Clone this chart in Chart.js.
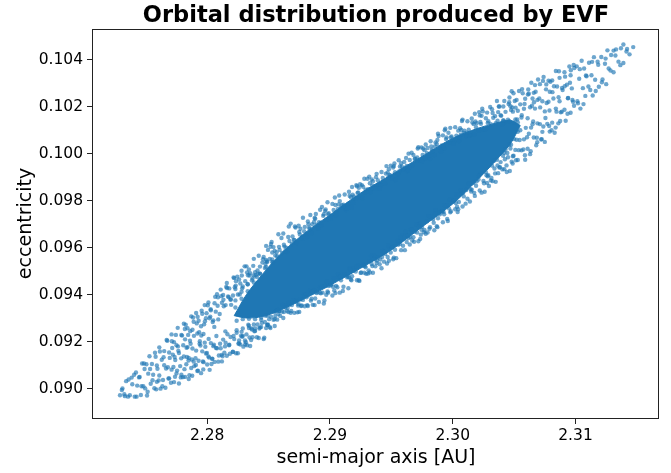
<!DOCTYPE html>
<html>
<head>
<meta charset="utf-8">
<script src="https://cdn.jsdelivr.net/npm/chart.js@4.4.1/dist/chart.umd.min.js"></script>
<style>
  html, body { margin: 0; padding: 0; background: #fff; }
  canvas { display: block; }
</style>
</head>
<body>
<canvas id="chart" width="671" height="473"></canvas>
<script>
/* semi-major axis [AU], eccentricity pairs */
const tailLow = [
  [2.2729,0.08972],[2.2731,0.09001],[2.2733,0.08968],[2.2734,0.09032],[2.2736,0.09039],[2.2737,0.08972],[2.2739,0.09019],
  [2.2741,0.08966],[2.2742,0.09069],[2.2743,0.09013],[2.2745,0.09050],[2.2746,0.08973],[2.2747,0.09107],[2.2748,0.09010],[2.2749,0.09084],
  [2.2751,0.08971],[2.2752,0.09064],[2.2753,0.09138],[2.2754,0.09021],[2.2755,0.09105],[2.2756,0.09059],[2.2757,0.09002],[2.2758,0.09136],[2.2759,0.09099],[2.2759,0.09029],
  [2.2761,0.09176],[2.2761,0.09056],[2.2762,0.09000],[2.2763,0.09123],[2.2764,0.09037],[2.2765,0.09160],[2.2765,0.09100],[2.2766,0.09004],[2.2767,0.09207],[2.2768,0.09091],[2.2769,0.09154],[2.2769,0.09044],
  [2.2771,0.09231],[2.2771,0.09081],[2.2772,0.09145],[2.2773,0.09028],[2.2773,0.09198],[2.2774,0.09122],[2.2775,0.09185],[2.2775,0.09065],[2.2776,0.09259],[2.2777,0.09022],[2.2777,0.09152],[2.2778,0.09096],[2.2779,0.09229],[2.2779,0.09059],
  [2.2781,0.09277],[2.2781,0.09137],[2.2782,0.09050],[2.2782,0.09210],[2.2783,0.09104],[2.2784,0.09257],[2.2784,0.09177],[2.2785,0.09041],[2.2785,0.09131],[2.2786,0.09204],[2.2787,0.09308],[2.2787,0.09088],[2.2788,0.09251],[2.2788,0.09171],[2.2789,0.09115],[2.2789,0.09285],
  [2.2791,0.09322],[2.2791,0.09162],[2.2792,0.09075],[2.2792,0.09235],[2.2793,0.09289],[2.2793,0.09119],[2.2794,0.09202],[2.2795,0.09066],[2.2795,0.09266],[2.2796,0.09159],[2.2796,0.09319],[2.2797,0.09233],[2.2797,0.09113],[2.2798,0.09356],[2.2798,0.09196],[2.2799,0.09300],[2.2799,0.09150],[2.2800,0.09103],
  [2.2801,0.09367],[2.2801,0.09137],[2.2802,0.09300],[2.2802,0.09080],[2.2803,0.09194],[2.2803,0.09334],[2.2804,0.09127],[2.2805,0.09291],[2.2805,0.09181],[2.2806,0.09364],[2.2806,0.09114],[2.2807,0.09328],[2.2808,0.09172],[2.2808,0.09402],[2.2809,0.09115],[2.2809,0.09295],
  [2.2811,0.09422],[2.2811,0.09172],[2.2812,0.09366],[2.2812,0.09116],[2.2813,0.09209],[2.2813,0.09399],[2.2814,0.09153],[2.2815,0.09356],[2.2815,0.09196],[2.2816,0.09450],[2.2816,0.09140],[2.2817,0.09393],[2.2818,0.09187],[2.2818,0.09427],[2.2819,0.09220],[2.2819,0.09380],
  [2.27305,0.08994],[2.27355,0.08966],[2.27385,0.09047],[2.27325,0.08976],
  [2.27405,0.09059],[2.27425,0.08966],[2.27445,0.09048],[2.27465,0.09010],[2.27485,0.09107],[2.27495,0.09001],
  [2.27505,0.09104],[2.27515,0.08987],[2.27535,0.09084],[2.27555,0.09036],[2.27575,0.09153],[2.27585,0.08997],[2.27595,0.09085],
  [2.27605,0.09035],[2.27615,0.09158],[2.27635,0.09010],[2.27645,0.09134],[2.27665,0.09086],[2.27675,0.09204],[2.27685,0.09043],[2.27695,0.09131],
  [2.27705,0.09025],[2.27715,0.09173],[2.27725,0.09092],[2.27745,0.09229],[2.27755,0.09077],[2.27765,0.09161],[2.27785,0.09048],[2.27795,0.09226],[2.27735,0.09135],
  [2.27805,0.09185],[2.27815,0.09083],[2.27825,0.09272],[2.27835,0.09135],[2.27845,0.09229],[2.27855,0.09057],[2.27865,0.09191],[2.27875,0.09124],[2.27885,0.09303],[2.27895,0.09096],
  [2.27905,0.09130],[2.27915,0.09278],[2.27925,0.09077],[2.27935,0.09240],[2.27945,0.09184],[2.27955,0.09332],[2.27965,0.09116],[2.27975,0.09274],[2.27985,0.09178],[2.27995,0.09321],
  [2.28005,0.09355],[2.28015,0.09133],[2.28025,0.09307],[2.28035,0.09105],[2.28045,0.09284],[2.28055,0.09187],[2.28065,0.09391],[2.28075,0.09224],[2.28085,0.09353],[2.28095,0.09141],
  [2.28105,0.09191],[2.28115,0.09394],[2.28125,0.09138],[2.28135,0.09351],[2.28145,0.09180],[2.28155,0.09433],[2.28165,0.09232],[2.28175,0.09390],[2.28185,0.09149],[2.28195,0.09357],
  [2.27712,0.09202],[2.27738,0.09051],[2.27762,0.09180],[2.27788,0.09129],[2.27802,0.09049],[2.27818,0.09254],[2.27832,0.09174],[2.27848,0.09120],
  [2.27862,0.09245],[2.27878,0.09055],[2.27892,0.09225],[2.27908,0.09101],[2.27922,0.09306],[2.27938,0.09191],[2.27952,0.09226],[2.27968,0.09082],
  [2.27982,0.09287],[2.27998,0.09152],[2.28012,0.09212],[2.28028,0.09338],[2.28042,0.09128],[2.28058,0.09263],[2.28072,0.09173],[2.28088,0.09389],
  [2.28102,0.09318],[2.28118,0.09144],[2.28132,0.09379],[2.28148,0.09244],[2.28162,0.09429],[2.28178,0.09185],[2.28192,0.09380],[2.28208,0.09156],
  [2.28232,0.09439],[2.28258,0.09193],[2.28282,0.09482],[2.28308,0.09205],[2.28332,0.09483],[2.28358,0.09207]
]

/* dots packed round both ends of the solid middle */
const coreRim = [
  [2.2823,0.09346],[2.2823,0.09376],[2.2828,0.09383],[2.2828,0.09413],[2.2833,0.09415],[2.2833,0.09445],[2.2838,0.09452],[2.2838,0.09482],
  [2.2843,0.09490],[2.2843,0.09520],[2.2848,0.09518],[2.2848,0.09548],[2.2853,0.09550],[2.2853,0.09580],
  [2.2824,0.09289],[2.2824,0.09249],[2.2829,0.09296],[2.2829,0.09256],[2.2834,0.09298],[2.2834,0.09258],[2.2839,0.09296],[2.2839,0.09256],
  [2.2844,0.09303],[2.2844,0.09263],[2.2849,0.09311],[2.2849,0.09271],[2.2855,0.09327],[2.2855,0.09297],
  [2.3042,0.10135],[2.3042,0.10005],[2.3046,0.10139],[2.3046,0.10039],[2.3050,0.10133],[2.3050,0.10063],[2.3053,0.10134],[2.3053,0.10094]
]

const upperEdge = [
  [2.2821,0.09397],[2.2823,0.09424],[2.2825,0.09401],[2.2827,0.09448],[2.2829,0.09435],[2.2822,0.09471],[2.2826,0.09465],[2.2828,0.09502],
  [2.2831,0.09458],[2.2833,0.09445],[2.2835,0.09492],[2.2837,0.09469],[2.2839,0.09496],[2.2832,0.09521],[2.2834,0.09508],[2.2838,0.09553],
  [2.2841,0.09503],[2.2843,0.09490],[2.2845,0.09537],[2.2847,0.09514],[2.2849,0.09541],[2.2842,0.09566],[2.2846,0.09561],[2.2848,0.09608],
  [2.2851,0.09553],[2.2853,0.09540],[2.2855,0.09587],[2.2857,0.09564],[2.2859,0.09591],[2.2852,0.09616],[2.2854,0.09603],[2.2858,0.09658],
  [2.2861,0.09578],[2.2863,0.09605],[2.2865,0.09582],[2.2867,0.09629],[2.2869,0.09616],[2.2862,0.09661],[2.2866,0.09646],[2.2868,0.09703],
  [2.2871,0.09633],[2.2873,0.09620],[2.2875,0.09667],[2.2877,0.09644],[2.2879,0.09671],[2.2872,0.09686],[2.2876,0.09681],[2.2878,0.09728],
  [2.2881,0.09659],[2.2883,0.09686],[2.2885,0.09663],[2.2887,0.09710],[2.2889,0.09697],[2.2882,0.09712],[2.2884,0.09740],[2.2888,0.09724],
  [2.2891,0.09709],[2.2893,0.09696],[2.2895,0.09743],[2.2897,0.09720],[2.2899,0.09747],[2.2892,0.09762],[2.2896,0.09757],[2.2898,0.09794],
  [2.2901,0.09734],[2.2903,0.09761],[2.2905,0.09738],[2.2907,0.09785],[2.2909,0.09772],[2.2902,0.09787],[2.2904,0.09814],[2.2908,0.09799],
  [2.2911,0.09784],[2.2913,0.09761],[2.2915,0.09788],[2.2917,0.09815],[2.2919,0.09792],[2.2912,0.09827],[2.2916,0.09822],[2.2918,0.09859],
  [2.2921,0.09809],[2.2923,0.09836],[2.2925,0.09813],[2.2927,0.09860],[2.2929,0.09847],[2.2922,0.09862],[2.2926,0.09867],[2.2928,0.09894],
  [2.2931,0.09850],[2.2933,0.09837],[2.2935,0.09884],[2.2937,0.09861],[2.2939,0.09888],[2.2932,0.09903],[2.2934,0.09891],[2.2938,0.09915],
  [2.2941,0.09870],[2.2943,0.09897],[2.2945,0.09874],[2.2947,0.09921],[2.2949,0.09908],[2.2942,0.09923],[2.2946,0.09948],[2.2948,0.09935],
  [2.2951,0.09895],[2.2953,0.09922],[2.2955,0.09899],[2.2957,0.09946],[2.2959,0.09933],[2.2952,0.09948],[2.2956,0.09973],[2.2958,0.09960],
  [2.2961,0.09940],[2.2963,0.09927],[2.2965,0.09974],[2.2967,0.09951],[2.2969,0.09978],[2.2962,0.09983],[2.2964,0.10001],[2.2968,0.09995],
  [2.2971,0.09985],[2.2973,0.09972],[2.2975,0.09969],[2.2977,0.10016],[2.2979,0.10003],[2.2972,0.10028],[2.2976,0.10023],[2.2978,0.10040],
  [2.2981,0.09991],[2.2983,0.10018],[2.2985,0.09995],[2.2987,0.10042],[2.2989,0.10029],[2.2982,0.10054],[2.2986,0.10049],[2.2988,0.10086],
  [2.2991,0.10036],[2.2993,0.10023],[2.2995,0.10070],[2.2997,0.10047],[2.2999,0.10074],[2.2992,0.10079],[2.2994,0.10107],[2.2998,0.10111],
  [2.3001,0.10051],[2.3003,0.10078],[2.3005,0.10055],[2.3007,0.10102],[2.3009,0.10089],[2.3002,0.10114],[2.3006,0.10109],[2.3008,0.10146],
  [2.3011,0.10076],[2.3013,0.10103],[2.3015,0.10080],[2.3017,0.10127],[2.3019,0.10114],[2.3012,0.10139],[2.3016,0.10134],[2.3018,0.10171],
  [2.3021,0.10101],[2.3023,0.10128],[2.3025,0.10105],[2.3027,0.10152],[2.3029,0.10139],[2.3022,0.10164],[2.3024,0.10192],[2.3028,0.10176],
  [2.3031,0.10127],[2.3033,0.10154],[2.3035,0.10131],[2.3037,0.10178],[2.3039,0.10165],[2.3032,0.10190],[2.3036,0.10225],[2.3038,0.10202],
  [2.3041,0.10142],[2.3043,0.10179],[2.3045,0.10146],[2.3047,0.10203],[2.3049,0.10180],[2.3042,0.10225],[2.3046,0.10220],[2.3048,0.10267],
  [2.28245,0.09477],[2.28265,0.09401],[2.28225,0.09432],[2.28235,0.09458],[2.28285,0.09428],[2.28215,0.09474],
  [2.28375,0.09523],[2.28395,0.09483],[2.28305,0.09521],[2.28345,0.09482],[2.28365,0.09462],[2.28325,0.09495],
  [2.28485,0.09541],[2.28415,0.09490],[2.28455,0.09551],[2.28475,0.09531],[2.28495,0.09591],[2.28405,0.09476],
  [2.28565,0.09581],[2.28525,0.09625],[2.28535,0.09538],[2.28585,0.09604],[2.28515,0.09604],[2.28555,0.09567],
  [2.28695,0.09648],[2.28605,0.09642],[2.28645,0.09600],[2.28665,0.09691],[2.28625,0.09613],[2.28635,0.09585],
  [2.28715,0.09691],[2.28755,0.09657],[2.28775,0.09640],[2.28795,0.09689],[2.28705,0.09633],[2.28745,0.09694],
  [2.28825,0.09700],[2.28835,0.09680],[2.28885,0.09744],[2.28815,0.09646],[2.28855,0.09700],[2.28875,0.09727],
  [2.28905,0.09682],[2.28945,0.09736],[2.28965,0.09763],[2.28925,0.09707],[2.28935,0.09774],[2.28985,0.09743],
  [2.29055,0.09753],[2.29075,0.09823],[2.29095,0.09782],[2.29005,0.09726],[2.29045,0.09782],[2.29065,0.09765],
  [2.29135,0.09767],[2.29185,0.09826],[2.29115,0.09778],[2.29155,0.09839],[2.29175,0.09772],[2.29195,0.09819],
  [2.29245,0.09871],[2.29265,0.09812],[2.29225,0.09834],[2.29235,0.09856],[2.29285,0.09835],[2.29215,0.09867],
  [2.29375,0.09901],[2.29395,0.09870],[2.29305,0.09894],[2.29345,0.09866],[2.29365,0.09851],[2.29325,0.09875],
  [2.29485,0.09910],[2.29415,0.09864],[2.29455,0.09916],[2.29475,0.09901],[2.29495,0.09950],[2.29405,0.09852],
  [2.29565,0.09926],[2.29525,0.09959],[2.29535,0.09889],[2.29585,0.09946],[2.29515,0.09942],[2.29555,0.09914],
  [2.29695,0.09980],[2.29605,0.09966],[2.29645,0.09942],[2.29665,0.10005],[2.29625,0.09949],[2.29635,0.09931],
  [2.29715,0.10023],[2.29755,0.09995],[2.29775,0.09980],[2.29795,0.10025],[2.29705,0.09971],[2.29745,0.10027],
  [2.29825,0.10032],[2.29835,0.10012],[2.29885,0.10076],[2.29815,0.09978],[2.29855,0.10032],[2.29875,0.10059],
  [2.29905,0.10009],[2.29945,0.10063],[2.29965,0.10090],[2.29925,0.10034],[2.29935,0.10101],[2.29985,0.10070],
  [2.30055,0.10070],[2.30075,0.10140],[2.30095,0.10099],[2.30005,0.10043],[2.30045,0.10099],[2.30065,0.10082],
  [2.30135,0.10079],[2.30185,0.10138],[2.30115,0.10090],[2.30155,0.10151],[2.30175,0.10084],[2.30195,0.10131],
  [2.30245,0.10181],[2.30265,0.10105],[2.30225,0.10136],[2.30235,0.10162],[2.30285,0.10132],[2.30215,0.10178],
  [2.30375,0.10202],[2.30395,0.10162],[2.30305,0.10200],[2.30345,0.10161],[2.30365,0.10141],[2.30325,0.10174],
  [2.30485,0.10198],[2.30415,0.10142],[2.30455,0.10212],[2.30475,0.10187],[2.30495,0.10258],[2.30405,0.10126]
]

const lowerEdge = [
  [2.2822,0.09211],[2.2824,0.09238],[2.2826,0.09205],[2.2828,0.09242],[2.2829,0.09225],[2.2821,0.09157],[2.2825,0.09151],[2.2827,0.09188],
  [2.2832,0.09231],[2.2834,0.09268],[2.2836,0.09256],[2.2838,0.09273],[2.2839,0.09246],[2.2831,0.09188],[2.2835,0.09182],[2.2837,0.09219],
  [2.2841,0.09273],[2.2843,0.09260],[2.2844,0.09293],[2.2847,0.09284],[2.2849,0.09271],[2.2842,0.09216],[2.2846,0.09211],[2.2848,0.09258],
  [2.2852,0.09306],[2.2854,0.09293],[2.2856,0.09331],[2.2858,0.09318],[2.2859,0.09331],[2.2851,0.09263],[2.2855,0.09267],[2.2857,0.09294],
  [2.2861,0.09328],[2.2863,0.09355],[2.2865,0.09332],[2.2867,0.09359],[2.2869,0.09356],[2.2862,0.09301],[2.2866,0.09326],[2.2868,0.09323],
  [2.2872,0.09376],[2.2874,0.09354],[2.2876,0.09381],[2.2878,0.09378],[2.2879,0.09401],[2.2871,0.09323],[2.2875,0.09327],[2.2877,0.09354],
  [2.2881,0.09389],[2.2883,0.09416],[2.2885,0.09383],[2.2887,0.09420],[2.2889,0.09407],[2.2882,0.09352],[2.2886,0.09357],[2.2888,0.09384],
  [2.2892,0.09432],[2.2894,0.09409],[2.2896,0.09437],[2.2898,0.09414],[2.2899,0.09437],[2.2891,0.09369],[2.2895,0.09363],[2.2897,0.09400],
  [2.2901,0.09444],[2.2903,0.09471],[2.2905,0.09438],[2.2907,0.09475],[2.2909,0.09462],[2.2902,0.09397],[2.2906,0.09432],[2.2908,0.09409],
  [2.2912,0.09487],[2.2914,0.09474],[2.2916,0.09512],[2.2918,0.09479],[2.2919,0.09502],[2.2911,0.09434],[2.2915,0.09428],[2.2917,0.09465],
  [2.2921,0.09499],[2.2923,0.09526],[2.2925,0.09493],[2.2927,0.09530],[2.2929,0.09517],[2.2922,0.09462],[2.2924,0.09459],[2.2928,0.09494],
  [2.2932,0.09543],[2.2934,0.09531],[2.2936,0.09568],[2.2938,0.09535],[2.2939,0.09558],[2.2931,0.09490],[2.2935,0.09494],[2.2937,0.09521],
  [2.2941,0.09550],[2.2943,0.09587],[2.2945,0.09574],[2.2947,0.09561],[2.2949,0.09598],[2.2942,0.09513],[2.2944,0.09541],[2.2948,0.09545],
  [2.2951,0.09605],[2.2953,0.09592],[2.2955,0.09629],[2.2957,0.09616],[2.2959,0.09653],[2.2952,0.09558],[2.2954,0.09556],[2.2958,0.09590],
  [2.2962,0.09653],[2.2964,0.09641],[2.2966,0.09678],[2.2968,0.09645],[2.2969,0.09668],[2.2961,0.09590],[2.2965,0.09614],[2.2967,0.09631],
  [2.2971,0.09665],[2.2973,0.09702],[2.2975,0.09689],[2.2977,0.09676],[2.2979,0.09713],[2.2972,0.09628],[2.2974,0.09656],[2.2978,0.09660],
  [2.2982,0.09734],[2.2984,0.09722],[2.2986,0.09759],[2.2988,0.09726],[2.2989,0.09749],[2.2981,0.09681],[2.2985,0.09675],[2.2987,0.09692],
  [2.2991,0.09756],[2.2993,0.09743],[2.2995,0.09780],[2.2997,0.09767],[2.2999,0.09804],[2.2992,0.09709],[2.2996,0.09714],[2.2998,0.09751],
  [2.3001,0.09801],[2.3003,0.09828],[2.3005,0.09795],[2.3007,0.09832],[2.3009,0.09819],[2.3002,0.09764],[2.3004,0.09752],[2.3008,0.09776],
  [2.3011,0.09846],[2.3013,0.09873],[2.3015,0.09840],[2.3017,0.09877],[2.3019,0.09864],[2.3012,0.09809],[2.3014,0.09797],[2.3018,0.09821],
  [2.3021,0.09891],[2.3023,0.09918],[2.3025,0.09885],[2.3027,0.09922],[2.3029,0.09909],[2.3022,0.09844],[2.3026,0.09839],[2.3028,0.09876],
  [2.3032,0.09950],[2.3034,0.09938],[2.3036,0.09975],[2.3038,0.09942],[2.3039,0.09965],[2.3031,0.09887],[2.3035,0.09881],[2.3037,0.09918],
  [2.3041,0.09992],[2.3043,0.10019],[2.3045,0.09986],[2.3047,0.10023],[2.3049,0.09990],[2.3042,0.09935],[2.3044,0.09923],[2.3048,0.09967],
  [2.28235,0.09151],[2.28285,0.09221],[2.28215,0.09224],[2.28255,0.09191],[2.28275,0.09225],[2.28295,0.09179],
  [2.28345,0.09218],[2.28365,0.09252],[2.28325,0.09185],[2.28335,0.09272],[2.28385,0.09244],[2.28315,0.09198],
  [2.28475,0.09311],[2.28495,0.09273],[2.28405,0.09219],[2.28445,0.09280],[2.28465,0.09217],[2.28425,0.09256],
  [2.28585,0.09331],[2.28515,0.09258],[2.28555,0.09310],[2.28575,0.09335],[2.28595,0.09310],[2.28505,0.09296],
  [2.28665,0.09368],[2.28625,0.09326],[2.28635,0.09346],[2.28685,0.09331],[2.28615,0.09357],[2.28655,0.09344],
  [2.28795,0.09351],[2.28705,0.09377],[2.28745,0.09360],[2.28765,0.09352],[2.28725,0.09370],[2.28735,0.09325],
  [2.28815,0.09356],[2.28855,0.09412],[2.28875,0.09356],[2.28895,0.09411],[2.28805,0.09403],[2.28845,0.09375],
  [2.28925,0.09406],[2.28935,0.09434],[2.28985,0.09409],[2.28915,0.09409],[2.28955,0.09376],[2.28975,0.09457],
  [2.29005,0.09440],[2.29045,0.09407],[2.29065,0.09488],[2.29025,0.09434],[2.29035,0.09418],[2.29085,0.09477],
  [2.29155,0.09475],[2.29175,0.09462],[2.29195,0.09511],[2.29105,0.09416],[2.29145,0.09478],[2.29165,0.09509],
  [2.29235,0.09462],[2.29285,0.09521],[2.29215,0.09519],[2.29255,0.09495],[2.29275,0.09524],[2.29295,0.09489],
  [2.29345,0.09522],[2.29365,0.09551],[2.29325,0.09495],[2.29335,0.09565],[2.29385,0.09546],[2.29315,0.09504],
  [2.29475,0.09609],[2.29495,0.09580],[2.29405,0.09530],[2.29445,0.09582],[2.29465,0.09533],[2.29425,0.09561],
  [2.29585,0.09638],[2.29515,0.09551],[2.29555,0.09613],[2.29575,0.09644],[2.29595,0.09609],[2.29505,0.09601],
  [2.29665,0.09677],[2.29625,0.09625],[2.29635,0.09651],[2.29685,0.09626],[2.29615,0.09668],[2.29655,0.09646],
  [2.29795,0.09665],[2.29705,0.09699],[2.29745,0.09677],[2.29765,0.09666],[2.29725,0.09690],[2.29735,0.09638],
  [2.29815,0.09688],[2.29855,0.09744],[2.29875,0.09688],[2.29895,0.09743],[2.29805,0.09735],[2.29845,0.09707],
  [2.29925,0.09753],[2.29935,0.09781],[2.29985,0.09756],[2.29915,0.09756],[2.29955,0.09723],[2.29975,0.09804],
  [2.30005,0.09797],[2.30045,0.09764],[2.30065,0.09845],[2.30025,0.09791],[2.30035,0.09775],[2.30085,0.09834],
  [2.30155,0.09847],[2.30175,0.09834],[2.30195,0.09883],[2.30105,0.09788],[2.30145,0.09850],[2.30165,0.09881],
  [2.30235,0.09835],[2.30285,0.09905],[2.30215,0.09908],[2.30255,0.09875],[2.30275,0.09909],[2.30295,0.09863],
  [2.30345,0.09917],[2.30365,0.09951],[2.30325,0.09884],[2.30335,0.09971],[2.30385,0.09943],[2.30315,0.09897],
  [2.30475,0.10039],[2.30495,0.09992],[2.30405,0.09934],[2.30445,0.10004],[2.30465,0.09927],[2.30425,0.09977]
]

const tailHigh = [
  [2.3051,0.10147],[2.3051,0.10017],[2.3052,0.10230],[2.3052,0.10060],[2.3053,0.10184],[2.3053,0.09974],[2.3054,0.10268],[2.3055,0.10101],[2.3055,0.10211],[2.3056,0.10015],[2.3056,0.10155],[2.3057,0.10258],[2.3058,0.10062],[2.3058,0.10192],[2.3059,0.09975],[2.3059,0.10235],
  [2.3061,0.10152],[2.3061,0.10022],[2.3062,0.10256],[2.3062,0.10086],[2.3063,0.10199],[2.3063,0.09999],[2.3064,0.10303],[2.3065,0.10126],[2.3065,0.10236],[2.3066,0.10070],[2.3066,0.10260],[2.3067,0.10193],[2.3067,0.10293],[2.3068,0.10037],[2.3069,0.10230],[2.3069,0.10130],
  [2.3071,0.10297],[2.3071,0.10127],[2.3072,0.10061],[2.3073,0.10224],[2.3073,0.10094],[2.3074,0.10328],[2.3075,0.10181],[2.3075,0.10051],[2.3076,0.10275],[2.3077,0.10128],[2.3078,0.10222],[2.3078,0.10312],[2.3079,0.10095],[2.3079,0.10265],
  [2.3081,0.10313],[2.3081,0.10133],[2.3082,0.10236],[2.3083,0.10090],[2.3084,0.10353],[2.3084,0.10193],[2.3085,0.10287],[2.3086,0.10130],[2.3087,0.10324],[2.3087,0.10224],[2.3088,0.10177],[2.3089,0.10281],
  [2.3091,0.10348],[2.3091,0.10188],[2.3092,0.10141],[2.3093,0.10295],[2.3094,0.10238],[2.3095,0.10372],[2.3096,0.10175],[2.3096,0.10335],[2.3097,0.10279],[2.3098,0.10222],[2.3099,0.10366],
  [2.3101,0.10373],[2.3102,0.10216],[2.3103,0.10320],[2.3104,0.10193],[2.3105,0.10397],[2.3106,0.10280],[2.3107,0.10364],[2.3108,0.10247],[2.3109,0.10331],
  [2.3111,0.10388],[2.3112,0.10272],[2.3113,0.10335],[2.3114,0.10249],[2.3115,0.10412],[2.3116,0.10316],[2.3118,0.10393],[2.3119,0.10286],
  [2.3121,0.10413],[2.3122,0.10317],[2.3124,0.10384],[2.3125,0.10297],[2.3126,0.10441],[2.3127,0.10364],[2.3129,0.10421],
  [2.3131,0.10348],[2.3131,0.10440],[2.3133,0.10445],[2.3135,0.10393],[2.3137,0.10450],[2.3139,0.10387],[2.3139,0.10466],[2.3142,0.10447],[2.3144,0.10424],[2.3147,0.10455],
  [2.30505,0.10225],[2.30515,0.09973],[2.30525,0.10147],[2.30545,0.10059],[2.30565,0.10276],[2.30575,0.10019],[2.30585,0.10213],[2.30595,0.10111],
  [2.30605,0.10071],[2.30615,0.10274],[2.30635,0.10011],[2.30645,0.10205],[2.30655,0.10138],[2.30675,0.10265],[2.30685,0.10069],[2.30695,0.10317],
  [2.30705,0.10236],[2.30725,0.10063],[2.30735,0.10311],[2.30755,0.10153],[2.30765,0.10217],[2.30785,0.10119],[2.30795,0.10307],
  [2.30805,0.10101],[2.30825,0.10288],[2.30845,0.10180],[2.30865,0.10352],[2.30875,0.10140],[2.30895,0.10272],
  [2.30915,0.10329],[2.30935,0.10171],[2.30955,0.10303],[2.30975,0.10230],[2.30985,0.10379],
  [2.31015,0.10224],[2.31035,0.10361],[2.31065,0.10212],[2.31085,0.10334],
  [2.31105,0.10287],[2.31135,0.10392],[2.31165,0.10268],[2.31185,0.10380],
  [2.31215,0.10305],[2.31245,0.10406],[2.31285,0.10355],
  [2.31325,0.10419],[2.31365,0.10378],[2.31415,0.10436],
  [2.30412,0.10202],[2.30438,0.09951],[2.30462,0.10240],[2.30488,0.09959],[2.30512,0.10197],[2.30538,0.10016],[2.30562,0.10165],[2.30588,0.09994],
  [2.30612,0.10253],[2.30638,0.10112],[2.30662,0.10220],[2.30688,0.10050],[2.30712,0.10198],[2.30738,0.10117],[2.30762,0.10296],[2.30788,0.10185],
  [2.30812,0.10263],[2.30838,0.10112],[2.30862,0.10241],[2.30888,0.10180],[2.30912,0.10288],[2.30938,0.10237],[2.30962,0.10356],[2.30988,0.10205]
]

/* outline of the solid, fully overlapped middle of the cloud */
const coreA = [2.2822, 2.2832, 2.2845, 2.2860, 2.2880, 2.2900, 2.2925, 2.2950, 2.2975, 2.3000, 2.3020, 2.3035, 2.3047, 2.3055]
const coreTop = [0.09311, 0.09401, 0.09487, 0.09575, 0.09665, 0.09740, 0.09833, 0.09911, 0.09989, 0.10067, 0.10108, 0.10131, 0.10143, 0.10121]
const coreBottom = [0.09311, 0.09301, 0.09307, 0.09335, 0.09385, 0.09440, 0.09513, 0.09591, 0.09689, 0.09787, 0.09888, 0.09971, 0.10043, 0.10121]

const aTicks = [2.28, 2.29, 2.30, 2.31]
const eTicks = [0.090, 0.092, 0.094, 0.096, 0.098, 0.100, 0.102, 0.104]

const font = 'DejaVu Sans'
const blue = '#1f77b4'
const dotColor = 'rgba(31, 119, 180, 0.65)'

Chart.defaults.font.family = font
Chart.defaults.color = '#000'

const toXY = (xs, ys) => xs.map((x, i) => ({x: x, y: ys[i]}))

// box round the plot, like matplotlib spines
const frame = {
  id: 'frame',
  afterDatasetsDraw(chart) {
    const {ctx, chartArea: a} = chart
    ctx.save()
    ctx.strokeStyle = '#222'
    ctx.lineWidth = 1
    ctx.strokeRect(a.left - 0.5, a.top + 0.5, a.right - a.left, a.bottom - a.top)
    ctx.restore()
  }
}

let ctx = document.getElementById('chart').getContext('2d')
new Chart(ctx, {
  type: 'scatter',
  data: {
    datasets: [
      {
        label: 'orbits',
        data: [...tailLow, ...coreRim, ...lowerEdge, ...upperEdge, ...tailHigh],
        pointRadius: 2.2,
        pointBackgroundColor: dotColor,
        pointBorderColor: 'rgba(0,0,0,0)',
        pointBorderWidth: 0
      },
      {
        type: 'line',
        label: 'core top',
        data: toXY(coreA, coreTop),
        borderColor: blue,
        borderWidth: 1,
        pointRadius: 0,
        tension: 0.3,
        fill: false
      },
      {
        type: 'line',
        label: 'core',
        data: toXY(coreA, coreBottom),
        borderColor: blue,
        borderWidth: 1,
        backgroundColor: blue,
        pointRadius: 0,
        tension: 0.3,
        fill: '-1'
      }
    ]
  },
  options: {
    responsive: false,
    animation: false,
    devicePixelRatio: 1,
    events: [],
    layout: { padding: { left: 0, right: 12, top: 0, bottom: 0 } },
    plugins: {
      legend: { display: false },
      tooltip: { enabled: false },
      title: {
        display: true,
        text: 'Orbital distribution produced by EVF',
        color: '#000',
        fullSize: false,
        font: { family: font, size: 22.5, weight: 'bold', lineHeight: 1 },
        padding: { top: 5, bottom: 1.5 }
      }
    },
    scales: {
      x: {
        type: 'linear',
        min: 2.2707,
        max: 2.3168,
        afterBuildTicks: s => { s.ticks = aTicks.map(v => ({value: v})) },
        afterFit: s => { s.height = 55 },
        border: { display: false },
        grid: { drawOnChartArea: false, drawTicks: true, tickLength: 6, tickColor: '#222', lineWidth: 1 },
        ticks: { color: '#000', font: { size: 15.5 }, padding: 3, maxRotation: 0, autoSkip: false, callback: v => v.toFixed(2) },
        title: { display: true, text: 'semi-major axis [AU]', color: '#000', font: { size: 19 }, padding: { top: 0, bottom: 4 } }
      },
      y: {
        type: 'linear',
        min: 0.08875,
        max: 0.10532,
        afterBuildTicks: s => { s.ticks = eTicks.map(v => ({value: v})) },
        afterFit: s => { s.width = 93 },
        border: { display: false },
        grid: { drawOnChartArea: false, drawTicks: true, tickLength: 6, tickColor: '#222', lineWidth: 1 },
        ticks: { color: '#000', font: { size: 15.5 }, padding: 4, autoSkip: false, callback: v => v.toFixed(3) },
        title: { display: true, text: 'eccentricity', color: '#000', font: { size: 19 }, padding: { top: 15, bottom: 0 } }
      }
    }
  },
  plugins: [frame]
})
</script>
</body>
</html>
